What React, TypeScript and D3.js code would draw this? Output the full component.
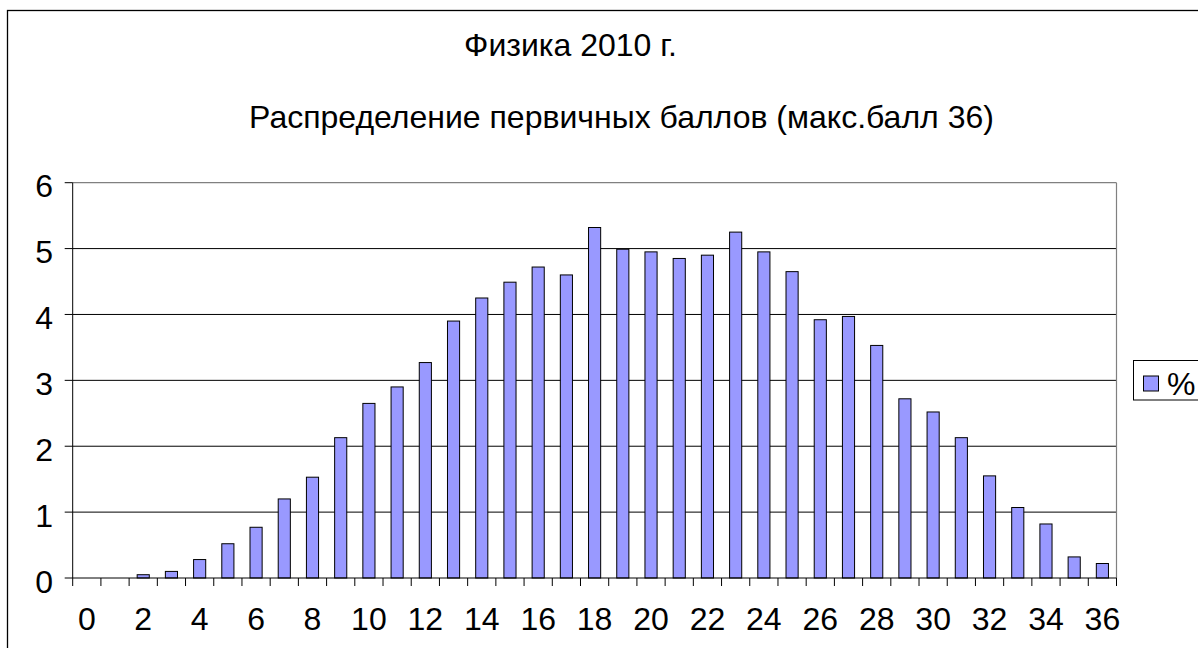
import React from "react";
import * as d3 from "d3";

const categories: string[] = Array.from({ length: 37 }, (_, i) => String(i));
const percentValues: number[] = [
  0, 0, 0.05, 0.1, 0.28, 0.52, 0.77, 1.2, 1.53, 2.13, 2.65, 2.9, 3.27,
  3.9, 4.25, 4.49, 4.72, 4.6, 5.32, 4.99, 4.95, 4.85, 4.9, 5.25, 4.95, 4.65,
  3.92, 3.97, 3.53, 2.72, 2.52, 2.13, 1.55, 1.07, 0.82, 0.32, 0.22,
];
const yTicks: number[] = [0, 1, 2, 3, 4, 5, 6];
const xTickLabels: string[] = categories.filter((_, i) => i % 2 === 0);
const titleLine1 = "Физика 2010 г.";
const titleLine2 = "Распределение первичных баллов (макс.балл 36)";
const legendLabel = "%";

const W = 1198;
const H = 648;
const FONT = "'Liberation Sans', Arial, sans-serif";
const FS = 32;

export default function App() {
  const left = 72.7;
  const right = 1116.5;
  const top = 182.7;
  const bottom = 578;

  const x = d3.scaleBand<string>().domain(categories).range([left, right]).padding(0);
  const y = d3.scaleLinear().domain([0, 6]).range([bottom, top]);
  const bw = x.bandwidth();
  const barW = bw * 0.43;

  return (
    <svg
      width={W}
      height={H}
      style={{ position: "absolute", left: 0, top: 0, background: "#fff" }}
      fontFamily={FONT}
    >
      <rect x={0} y={0} width={W} height={H} fill="#fff" />
      <rect x={7.5} y={10.5} width={W + 20} height={H + 20} fill="#fff" stroke="#000" strokeWidth={1.3} />

      <text x={570.5} y={56} textAnchor="middle" fontSize={FS} fill="#000">
        {titleLine1}
      </text>
      <text x={621.5} y={128} textAnchor="middle" fontSize={FS} fill="#000">
        {titleLine2}
      </text>

      {/* gridlines */}
      {yTicks
        .filter((t) => t > 0 && t < 6)
        .map((t) => (
          <line key={"g" + t} x1={left} x2={right} y1={y(t)} y2={y(t)} stroke="#000" strokeWidth={1} />
        ))}
      {/* plot border top/right */}
      <line x1={left} x2={right} y1={y(6)} y2={y(6)} stroke="#808080" strokeWidth={1.2} />
      <line x1={right} x2={right} y1={top} y2={bottom} stroke="#808080" strokeWidth={1.2} />

      {/* bars */}
      {percentValues.map((v, i) =>
        v > 0 ? (
          <rect
            key={"b" + i}
            x={(x(categories[i]) as number) + (bw - barW) / 2}
            y={y(v)}
            width={barW}
            height={y(0) - y(v)}
            fill="#9999FF"
            stroke="#000"
            strokeWidth={1}
          />
        ) : null
      )}

      {/* y axis */}
      <line x1={left} x2={left} y1={top} y2={bottom} stroke="#000" strokeWidth={1} />
      {yTicks.map((t) => (
        <g key={"yt" + t}>
          <line x1={left - 8} x2={left} y1={y(t)} y2={y(t)} stroke="#000" strokeWidth={1} />
          <text x={53} y={y(t) + 14.5} textAnchor="end" fontSize={FS} fill="#000">
            {t}
          </text>
        </g>
      ))}

      {/* x axis */}
      <line x1={left} x2={right} y1={bottom} y2={bottom} stroke="#000" strokeWidth={1} />
      {categories.concat(["end"]).map((c, i) => {
        const xx = i < categories.length ? (x(c) as number) : right;
        return <line key={"xt" + i} x1={xx} x2={xx} y1={bottom} y2={bottom + 8} stroke="#000" strokeWidth={1} />;
      })}
      {xTickLabels.map((c) => (
        <text key={"xl" + c} x={(x(c) as number) + bw / 2} y={630} textAnchor="middle" fontSize={FS} fill="#000">
          {c}
        </text>
      ))}

      {/* legend */}
      <rect x={1133.5} y={360.5} width={80} height={39.5} fill="#fff" stroke="#000" strokeWidth={1} />
      <rect x={1143.5} y={376} width={15} height={15} fill="#9999FF" stroke="#000" strokeWidth={1} />
      <text x={1167} y={395} fontSize={FS} fill="#000">
        {legendLabel}
      </text>
    </svg>
  );
}
